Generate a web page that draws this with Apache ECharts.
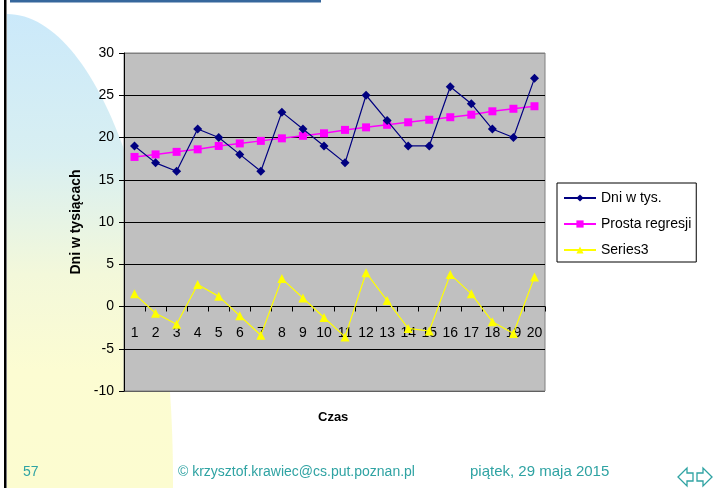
<!DOCTYPE html>
<html>
<head>
<meta charset="utf-8">
<script src="https://cdn.jsdelivr.net/npm/echarts@6/dist/echarts.min.js"></script>
<style>
  html, body { margin: 0; padding: 0; background: #fff; }
  #chart { width: 726px; height: 488px; }
</style>
</head>
<body>
<div id="chart"></div>
<script>
// Czas (okresy 1..20)
const categories = ['1','2','3','4','5','6','7','8','9','10','11','12','13','14','15','16','17','18','19','20'];
// Dni w tys.
const dni = [19, 17, 16, 21, 20, 18, 16, 23, 21, 19, 17, 25, 22, 19, 19, 26, 24, 21, 20, 27];
// Prosta regresji
const regresja = [17.7, 18.0, 18.3, 18.6, 19.0, 19.3, 19.6, 19.9, 20.2, 20.5, 20.9, 21.2, 21.5, 21.8, 22.1, 22.4, 22.7, 23.1, 23.4, 23.7];
// Series3 (reszty)
const series3 = [1.5, -0.8, -2.1, 2.6, 1.2, -1.1, -3.4, 3.3, 1.0, -1.3, -3.6, 4.0, 0.7, -2.6, -2.9, 3.8, 1.5, -1.8, -3.2, 3.5];

const seriesNames = ['Dni w tys.', 'Prosta regresji', 'Series3'];
const yTicks = { min: -10, max: 30, step: 5 };

const teal = '#2FA3A3';
const font = 'Arial, "Liberation Sans", sans-serif';

// plot area box (px)
const gridBox = { left: 124, top: 53, right: 181, bottom: 97 };
const plotHeight = 488 - gridBox.top - gridBox.bottom;
// lift the category axis from the bottom edge up to the value 0
const zeroLift = plotHeight * (0 - yTicks.min) / (yTicks.max - yTicks.min);

// pastel quarter-ellipse outline used as the slide backdrop
function backdropPoints() {
  const cx = 7, cy = 480, rx = 166, ry = 466;
  const pts = [];
  for (let i = 0; i <= 60; i++) {
    const a = (Math.PI / 2) * (i / 60);
    pts.push([cx + rx * Math.sin(a), cy - ry * Math.cos(a)]);
  }
  pts.push([173, 488], [7, 488]);
  return pts;
}

const chart = echarts.init(document.getElementById('chart'), null, { renderer: 'canvas' });

chart.setOption({
  animation: false,
  backgroundColor: '#ffffff',
  textStyle: { fontFamily: font },
  graphic: [
    {
      type: 'polygon', z: -10, silent: true,
      shape: { points: backdropPoints() },
      style: {
        fill: {
          type: 'linear', x: 0, y: 0, x2: 0, y2: 1,
          colorStops: [
            { offset: 0, color: '#CBE9FA' },
            { offset: 0.3, color: '#D8EFF2' },
            { offset: 0.55, color: '#F3F8DA' },
            { offset: 0.75, color: '#FCFCD2' },
            { offset: 1, color: '#FCFCD0' }
          ]
        }
      }
    },
    // left vertical rule of the slide
    { type: 'rect', z: -5, silent: true, shape: { x: 4, y: 0, width: 2.5, height: 488 }, style: { fill: '#000' } },
    // header bar
    { type: 'rect', z: -5, silent: true, shape: { x: 10, y: 0, width: 311, height: 2.5 }, style: { fill: '#36679C' } },
    // axis title under the plot
    { type: 'text', left: 318, top: 411, style: { text: 'Czas', fill: '#000', font: 'bold 13px ' + font } },
    // footer
    { type: 'text', left: 23, top: 465, style: { text: '57', fill: teal, font: '14px ' + font } },
    { type: 'text', left: 178, top: 465, style: { text: '© krzysztof.krawiec@cs.put.poznan.pl', fill: teal, font: '14px ' + font } },
    { type: 'text', left: 470, top: 464, style: { text: 'piątek, 29 maja 2015', fill: teal, font: '15px ' + font } },
    // navigation arrows
    {
      type: 'polygon', silent: true,
      shape: { points: [[678, 477], [687, 468], [687, 473], [693, 473], [693, 481], [687, 481], [687, 486]] },
      style: { fill: 'none', stroke: teal, lineWidth: 1.3 }
    },
    {
      type: 'polygon', silent: true,
      shape: { points: [[712, 477], [703, 468], [703, 473], [697, 473], [697, 481], [703, 481], [703, 486]] },
      style: { fill: 'none', stroke: teal, lineWidth: 1.3 }
    }
  ],
  legend: {
    orient: 'vertical',
    left: 557,
    top: 183,
    data: seriesNames,
    backgroundColor: '#ffffff',
    borderColor: '#000000',
    borderWidth: 1,
    borderRadius: 0,
    padding: [8, 5, 5, 6],
    itemGap: 12,
    itemWidth: 32,
    itemHeight: 9,
    textStyle: { fontSize: 14, color: '#000', fontFamily: font }
  },
  grid: {
    left: gridBox.left,
    top: gridBox.top,
    right: gridBox.right,
    bottom: gridBox.bottom,
    show: true,
    outerBoundsMode: 'none',
    containLabel: false,
    backgroundColor: '#C0C0C0',
    borderColor: '#808080',
    borderWidth: 1
  },
  xAxis: {
    type: 'category',
    data: categories,
    boundaryGap: true,
    position: 'bottom',
    offset: -zeroLift,
    axisLine: { onZero: false, lineStyle: { color: '#000', width: 1 } },
    axisTick: { show: true, inside: false, length: 5, alignWithLabel: false, lineStyle: { color: '#000' } },
    axisLabel: { fontSize: 14, color: '#000', margin: 20, interval: 0 },
    splitLine: { show: false }
  },
  yAxis: {
    type: 'value',
    min: yTicks.min,
    max: yTicks.max,
    interval: yTicks.step,
    name: 'Dni w tysiącach',
    nameLocation: 'middle',
    nameRotate: 90,
    nameGap: 40,
    nameTextStyle: { fontSize: 14, fontWeight: 'bold', color: '#000' },
    axisLine: { show: true, onZero: false, lineStyle: { color: '#000', width: 1 } },
    axisTick: { show: true, inside: false, length: 5, lineStyle: { color: '#000' } },
    axisLabel: { fontSize: 14, color: '#000', margin: 10 },
    splitLine: {
      show: true,
      lineStyle: {
        color: ['#606060', '#000', '#000', '#000', '#000', '#000', '#000', '#000', '#808080'],
        width: 1
      }
    }
  },
  series: [
    {
      name: seriesNames[0],
      type: 'line',
      data: dni,
      symbol: 'diamond',
      symbolSize: 9,
      z: 4,
      lineStyle: { color: '#000080', width: 1.2 },
      itemStyle: { color: '#000080' }
    },
    {
      name: seriesNames[1],
      type: 'line',
      data: regresja,
      symbol: 'rect',
      symbolSize: 8,
      z: 3,
      lineStyle: { color: '#FF00FF', width: 1.5 },
      itemStyle: { color: '#FF00FF' }
    },
    {
      name: seriesNames[2],
      type: 'line',
      data: series3,
      symbol: 'triangle',
      symbolSize: 9,
      z: 2,
      lineStyle: { color: '#FFFF00', width: 1.2 },
      itemStyle: { color: '#FFFF00' }
    }
  ]
});
</script>
</body>
</html>
